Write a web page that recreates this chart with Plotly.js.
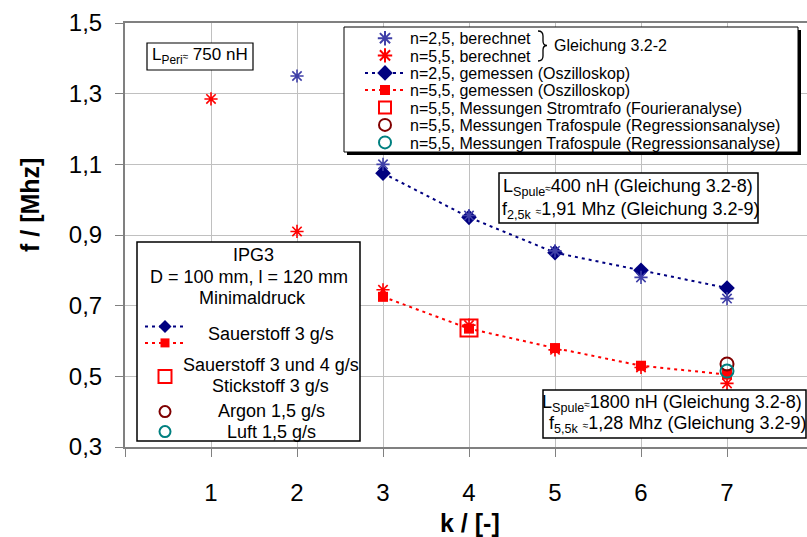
<!DOCTYPE html>
<html>
<head>
<meta charset="utf-8">
<script src="https://cdn.plot.ly/plotly-3.0.1.min.js"></script>
<style>
  html, body { margin: 0; padding: 0; background: #ffffff; }
  #chart { width: 807px; height: 537px; }
</style>
</head>
<body>
<div id="chart"></div>
<script>
// Resonanzfrequenz f über Windungsabstand k (IPG3)
const kBerechnet25 = [2, 3, 4, 5, 6, 7];
const fBerechnet25 = [1.35, 1.10, 0.955, 0.855, 0.78, 0.72];
const kBerechnet55 = [1, 2, 3, 4, 5, 6, 7];
const fBerechnet55 = [1.285, 0.91, 0.745, 0.645, 0.575, 0.525, 0.48];
const kGemessen = [3, 4, 5, 6, 7];
const fGemessen25 = [1.075, 0.95, 0.85, 0.80, 0.75];
const fGemessen55 = [0.725, 0.635, 0.58, 0.53, 0.505];
const kStromtrafo = [4];
const fStromtrafo = [0.637];
const kArgon = [7];
const fArgon = [0.535];
const kLuft = [7];
const fLuft = [0.515];

const xTickVals = [0, 1, 2, 3, 4, 5, 6, 7];
const xTickText = ['', '1', '2', '3', '4', '5', '6', '7'];
const yTickVals = [0.3, 0.5, 0.7, 0.9, 1.1, 1.3, 1.5];

// page geometry (pixels)
const W = 807, H = 537;
const M = { l: 125, r: 0, t: 23, b: 90 };
const PW = W - M.l - M.r, PH = H - M.t - M.b;
const px = v => (v - M.l) / PW;          // pixel x -> paper x
const py = v => (H - M.b - v) / PH;      // pixel y -> paper y

const FONT = 'Liberation Sans, Arial, Helvetica, sans-serif';
const NAVY = '#000080', BLUE = '#4040a8', RED = '#ff0000', DARKRED = '#800000', TEAL = '#008080';
const DOT = '3px,4px';

const traces = [
  { x: kGemessen, y: fGemessen25, mode: 'lines+markers', name: 'n=2,5, gemessen (Oszilloskop)',
    line: { color: NAVY, width: 2, dash: DOT }, marker: { symbol: 'diamond', size: 12, color: NAVY },
    legend: 'legend3' },
  { x: kGemessen, y: fGemessen55, mode: 'lines+markers', name: 'n=5,5, gemessen (Oszilloskop)',
    line: { color: RED, width: 2, dash: DOT }, marker: { symbol: 'square', size: 10, color: RED },
    legend: 'legend4' },
  { x: kBerechnet25, y: fBerechnet25, mode: 'markers', name: 'n=2,5, berechnet',
    marker: { symbol: 'asterisk-open', size: 11, color: BLUE, line: { color: BLUE, width: 1.6 } },
    legend: 'legend' },
  { x: kBerechnet55, y: fBerechnet55, mode: 'markers', name: 'n=5,5, berechnet',
    marker: { symbol: 'asterisk-open', size: 11, color: RED, line: { color: RED, width: 1.6 } },
    legend: 'legend2' },
  { x: kStromtrafo, y: fStromtrafo, mode: 'markers', name: 'n=5,5, Messungen Stromtrafo (Fourieranalyse)',
    marker: { symbol: 'square-open', size: 17, color: RED, line: { color: RED, width: 2 } },
    legend: 'legend5' },
  { x: kArgon, y: fArgon, mode: 'markers', name: 'n=5,5, Messungen Trafospule (Regressionsanalyse)',
    marker: { symbol: 'circle-open', size: 13, color: DARKRED, line: { color: DARKRED, width: 2 } },
    legend: 'legend6' },
  { x: kLuft, y: fLuft, mode: 'markers', name: 'n=5,5, Messungen Trafospule (Regressionsanalyse)',
    marker: { symbol: 'circle-open', size: 13, color: TEAL, line: { color: TEAL, width: 2 } },
    legend: 'legend7' },
  // keys of the gas legend in the lower left box (no points of their own)
  { x: [null], y: [null], mode: 'lines+markers', name: ' ', hoverinfo: 'skip',
    line: { color: NAVY, width: 2, dash: DOT }, marker: { symbol: 'diamond', size: 10, color: NAVY },
    legend: 'legend8' },
  { x: [null], y: [null], mode: 'lines+markers', name: ' ', hoverinfo: 'skip',
    line: { color: RED, width: 2, dash: DOT }, marker: { symbol: 'square', size: 9, color: RED },
    legend: 'legend9' },
  { x: [null], y: [null], mode: 'markers', name: ' ', hoverinfo: 'skip',
    marker: { symbol: 'square-open', size: 13, color: RED, line: { color: RED, width: 2 } },
    legend: 'legend10' },
  { x: [null], y: [null], mode: 'markers', name: ' ', hoverinfo: 'skip',
    marker: { symbol: 'circle-open', size: 11, color: DARKRED, line: { color: DARKRED, width: 2 } },
    legend: 'legend11' },
  { x: [null], y: [null], mode: 'markers', name: ' ', hoverinfo: 'skip',
    marker: { symbol: 'circle-open', size: 11, color: TEAL, line: { color: TEAL, width: 2 } },
    legend: 'legend12' }
];

// one legend per key row so every row sits where the boxed legends need it
function keyLegend(leftPx, centerPx, sizing) {
  return {
    x: px(leftPx), y: py(centerPx), xanchor: 'left', yanchor: 'middle',
    bgcolor: 'rgba(0,0,0,0)', borderwidth: 0, itemwidth: 40, itemsizing: sizing,
    font: { family: FONT, size: 16, color: '#000' }, itemclick: false, itemdoubleclick: false
  };
}
const mainRows = [38.3, 55.5, 73, 90.2, 107.5, 125, 142.5];
const mainSizing = ['constant', 'constant', 'trace', 'trace', 'constant', 'constant', 'constant'];
const gasRows = [326.7, 343, 376.7, 411.7, 431.7];

function rect(x0, y0, x1, y1, fill, lineW) {
  return { type: 'rect', xref: 'paper', yref: 'paper', layer: 'above',
    x0: px(x0), x1: px(x1), y0: py(y0), y1: py(y1),
    fillcolor: fill, line: { color: '#000', width: lineW } };
}
function bracePath() {
  const p = (x, y) => px(x) + ',' + py(y);
  return 'M' + p(538, 31) + ' Q' + p(543, 31) + ' ' + p(543, 36) + ' L' + p(543, 41) +
         ' Q' + p(543, 45.5) + ' ' + p(547, 45.5) + ' Q' + p(543, 45.5) + ' ' + p(543, 50) +
         ' L' + p(543, 56) + ' Q' + p(543, 61) + ' ' + p(538, 61);
}

const shapes = [
  rect(347, 30, 801, 155, '#000', 0),
  rect(344, 27, 798, 152, '#fff', 1),
  { type: 'path', xref: 'paper', yref: 'paper', layer: 'above', path: bracePath(),
    line: { color: '#000', width: 1.3 } },
  rect(147, 43, 253, 70, '#fff', 1.2),
  rect(499, 173, 758, 223, '#fff', 1.5),
  rect(543, 390, 806, 438, '#fff', 1.5),
  rect(137, 242, 360, 441, '#fff', 1.5)
];

const approx = s => '<span style="font-size:10px">' + s + '</span>';
function note(text, x, y, size, extra) {
  return Object.assign({ text: text, xref: 'paper', yref: 'paper', x: px(x), y: py(y),
    xanchor: 'center', yanchor: 'middle', showarrow: false,
    font: { family: FONT, size: size, color: '#000' } }, extra || {});
}

const annotations = [
  note('Gleichung 3.2-2', 610, 46, 16),
  note('L<sub>Peri</sub>' + approx('≈') + ' 750 nH', 199.5, 56.5, 17),
  note('L<sub>Spule</sub>' + approx('≈') + '400 nH (Gleichung 3.2-8)', 628, 187, 18),
  note('f<sub>2,5k</sub> ' + approx('≈') + '1,91 Mhz (Gleichung 3.2-9)', 630, 210, 18),
  note('L<sub>Spule</sub>' + approx('≈') + '1800 nH (Gleichung 3.2-8)', 672, 403, 18),
  note('f<sub>5,5k</sub> ' + approx('≈') + '1,28 Mhz (Gleichung 3.2-9)', 677, 424, 18),
  note('IPG3', 253, 255, 18),
  note('D = 100 mm, l = 120 mm', 249, 277, 18),
  note('Minimaldruck', 252, 298, 18),
  note('Sauerstoff 3 g/s', 271, 334, 18),
  note('Sauerstoff 3 und 4 g/s', 270.5, 365, 18),
  note('Stickstoff 3 g/s', 270, 386, 18),
  note('Argon 1,5 g/s', 271, 411, 18),
  note('Luft 1,5 g/s', 271, 432, 18),
  note('<b>f / [Mhz]</b>', 30, 205, 25, { textangle: -90 }),
  note('<b>k / [-]</b>', 470, 523, 25)
];

const layout = {
  width: W, height: H,
  margin: M,
  paper_bgcolor: '#ffffff', plot_bgcolor: '#ffffff',
  separators: ', ',
  font: { family: FONT, size: 16, color: '#000' },
  showlegend: true,
  xaxis: {
    range: [0, PW / 86], tickmode: 'array', tickvals: xTickVals, ticktext: xTickText,
    showgrid: true, gridcolor: '#c0c0c0', gridwidth: 1, zeroline: false,
    showline: true, linecolor: '#808080', linewidth: 2, mirror: true,
    ticks: 'outside', ticklen: 8, tickcolor: '#808080', tickwidth: 1,
    ticklabelstandoff: 15,
    tickfont: { family: FONT, size: 24, color: '#000' }
  },
  yaxis: {
    range: [0.3, 1.5], tickmode: 'array', tickvals: yTickVals, tickformat: '.1f',
    showgrid: true, gridcolor: '#c0c0c0', gridwidth: 1, zeroline: false,
    showline: true, linecolor: '#808080', linewidth: 2,
    ticks: 'outside', ticklen: 8, tickcolor: '#808080', tickwidth: 1,
    ticklabelstandoff: 8,
    tickfont: { family: FONT, size: 24, color: '#000' }
  },
  shapes: shapes,
  annotations: annotations
};

// legend rows: upper right box keys and lower left gas keys
const mainNames = ['legend', 'legend2', 'legend3', 'legend4', 'legend5', 'legend6', 'legend7'];
mainNames.forEach((id, i) => { layout[id] = keyLegend(360, mainRows[i], mainSizing[i]); });
const gasNames = ['legend8', 'legend9', 'legend10', 'legend11', 'legend12'];
gasNames.forEach((id, i) => { layout[id] = keyLegend(140, gasRows[i], 'trace'); });

Plotly.newPlot('chart', traces, layout, { staticPlot: true, displayModeBar: false });
</script>
</body>
</html>
